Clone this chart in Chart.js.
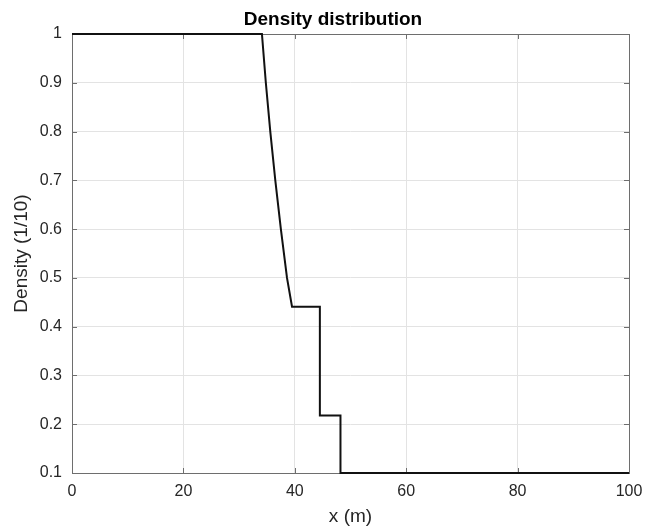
<!DOCTYPE html>
<html>
<head>
<meta charset="utf-8">
<script src="https://cdn.jsdelivr.net/npm/chart.js@4.4.1/dist/chart.umd.min.js"></script>
<style>
  html, body { margin: 0; padding: 0; background: #fff; }
  #wrap { width: 649px; height: 529px; }
</style>
</head>
<body>
<div id="wrap"><canvas id="chart" width="649" height="529"></canvas></div>
<script>
// density profile
const xPos = [0, 34.1, 34.8, 35.6, 36.5, 37.5, 38.6, 39.5, 44.5, 44.5, 48.2, 48.2, 100];
const density = [1, 1, 0.9, 0.8, 0.7, 0.6, 0.5, 0.441, 0.441, 0.218, 0.218, 0.1, 0.1];

const xTicks = [0, 20, 40, 60, 80, 100];
const xTickLabels = ["0", "20", "40", "60", "80", "100"];
const yTicks = [0.1, 0.2, 0.3, 0.4, 0.5, 0.6, 0.7, 0.8, 0.9, 1];
const yTickLabels = ["0.1", "0.2", "0.3", "0.4", "0.5", "0.6", "0.7", "0.8", "0.9", "1"];

const FONT = "'Liberation Sans', Arial, Helvetica, sans-serif";
const TXT = "#262626";

// MATLAB-like box with inward ticks, plus the title
const boxPlugin = {
  id: "box",
  beforeDatasetsDraw(chart) {
    const { ctx, chartArea: a, scales } = chart;
    ctx.save();
    ctx.strokeStyle = "#6e6e6e";
    ctx.lineWidth = 1;
    ctx.strokeRect(Math.round(a.left) + 0.5, Math.round(a.top) + 0.5,
      Math.round(a.right - a.left), Math.round(a.bottom - a.top));
    ctx.beginPath();
    const tl = 5;
    xTicks.forEach(v => {
      const px = Math.round(scales.x.getPixelForValue(v)) + 0.5;
      ctx.moveTo(px, a.bottom); ctx.lineTo(px, a.bottom - tl);
      ctx.moveTo(px, a.top); ctx.lineTo(px, a.top + tl);
    });
    yTicks.forEach(v => {
      const py = Math.round(scales.y.getPixelForValue(v)) + 0.5;
      ctx.moveTo(a.left, py); ctx.lineTo(a.left + tl, py);
      ctx.moveTo(a.right, py); ctx.lineTo(a.right - tl, py);
    });
    ctx.stroke();
    ctx.restore();
  },
  afterDraw(chart) {
    const { ctx } = chart;
    ctx.save();
    ctx.fillStyle = "#000";
    ctx.font = "bold 19px " + FONT;
    ctx.textAlign = "center";
    ctx.textBaseline = "middle";
    ctx.fillText("Density distribution", 333, 19.5);
    ctx.restore();
  }
};

const ctx = document.getElementById("chart").getContext("2d");
new Chart(ctx, {
  type: "line",
  data: {
    datasets: [{
      data: xPos.map((x, i) => ({ x, y: density[i] })),
      borderColor: "#111",
      borderWidth: 2,
      pointRadius: 0,
      tension: 0,
      fill: false,
      clip: false
    }]
  },
  options: {
    responsive: false,
    animation: false,
    layout: { padding: { top: 34, right: 20, bottom: 0, left: 0 } },
    plugins: { legend: { display: false }, tooltip: { enabled: false } },
    scales: {
      x: {
        type: "linear",
        min: 0, max: 100,
        afterBuildTicks: s => { s.ticks = xTicks.map(v => ({ value: v })); },
        afterFit: s => { s.height = 56; s.paddingLeft = 0; s.paddingRight = 0; },
        border: { display: false },
        grid: { color: "#e3e3e3", drawTicks: false },
        ticks: {
          padding: 9,
          color: TXT,
          font: { size: 16, family: FONT },
          maxRotation: 0,
          callback: (v, i) => xTickLabels[i]
        },
        title: {
          display: true,
          text: "x (m)",
          color: TXT,
          font: { size: 19, family: FONT },
          padding: { top: 0, bottom: 1 }
        }
      },
      y: {
        type: "linear",
        min: 0.1, max: 1,
        afterBuildTicks: s => { s.ticks = yTicks.map(v => ({ value: v })); },
        afterFit: s => { s.width = 72; s.paddingTop = 0; s.paddingBottom = 0; },
        border: { display: false },
        grid: { color: "#e3e3e3", drawTicks: false },
        ticks: {
          padding: 10,
          color: TXT,
          font: { size: 16, family: FONT },
          callback: (v, i) => yTickLabels[i]
        },
        title: {
          display: true,
          text: "Density (1/10)",
          color: TXT,
          font: { size: 19, family: FONT },
          padding: { top: 10, bottom: 0 }
        }
      }
    }
  },
  plugins: [boxPlugin]
});
</script>
</body>
</html>
